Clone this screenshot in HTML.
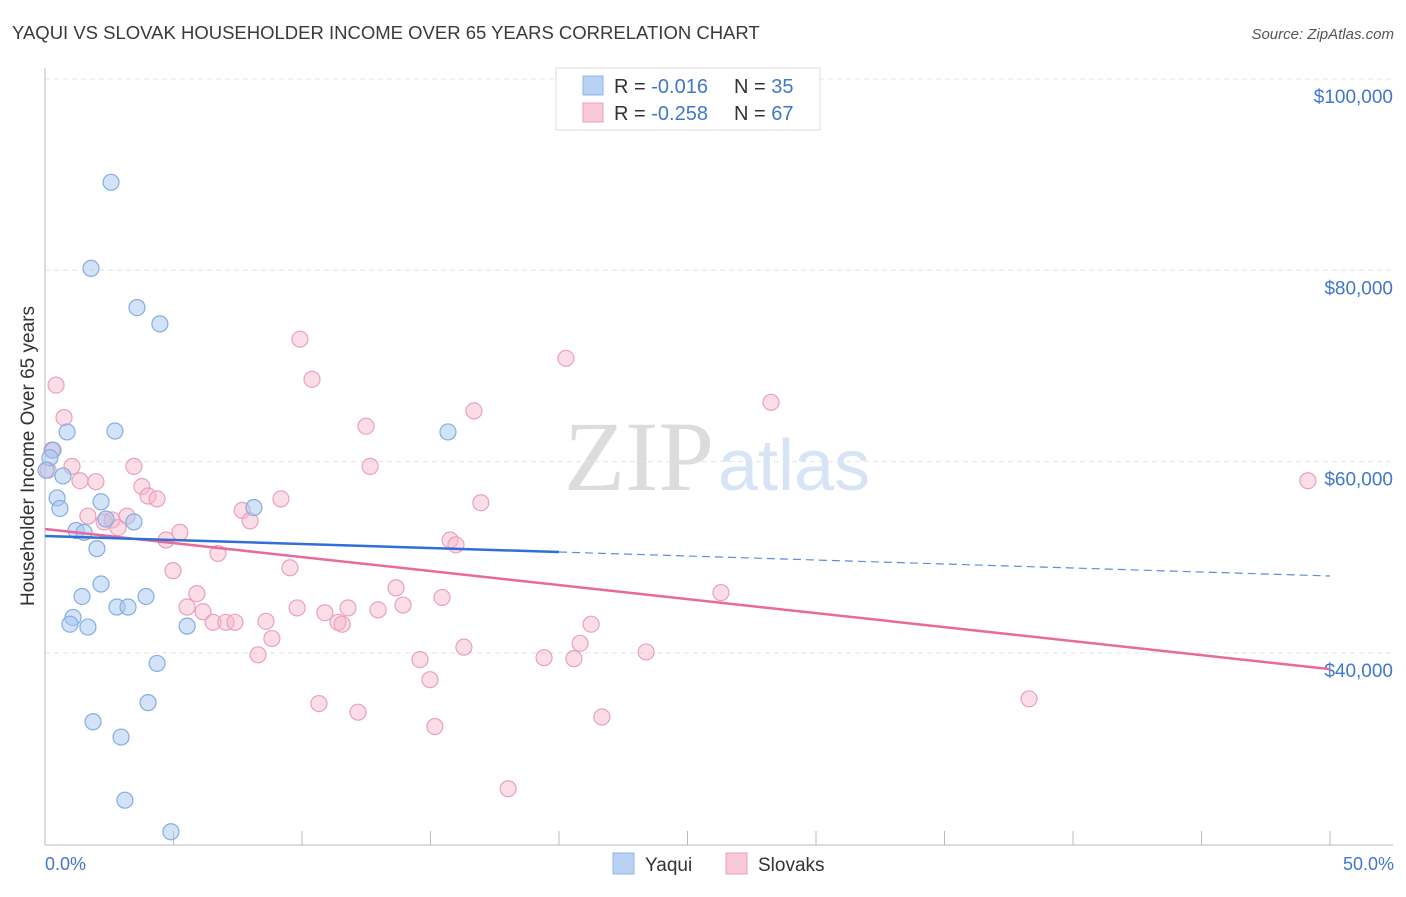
<!DOCTYPE html>
<html><head><meta charset="utf-8"><style>
body{margin:0;background:#fff;font-family:"Liberation Sans",sans-serif;}
svg text{font-family:"Liberation Sans",sans-serif;}
</style></head><body>
<svg id="chart" width="1406" height="892">
<text x="12" y="39" font-size="18.5" fill="#3a3a3a">YAQUI VS SLOVAK HOUSEHOLDER INCOME OVER 65 YEARS CORRELATION CHART</text>
<text x="1394" y="39" font-size="15" fill="#555" text-anchor="end" font-style="italic">Source: ZipAtlas.com</text>
<text x="714" y="490" font-size="100" fill="#dcdcdc" text-anchor="end" style="font-family:'Liberation Serif',serif">ZIP</text>
<text x="718" y="490" font-size="72" fill="#d6e4f5">atlas</text>
<g id="grid"></g>
<g id="axes"></g>
<g id="points"></g>
<g id="lines"></g>
<text transform="translate(34,456) rotate(-90)" font-size="19" fill="#333" text-anchor="middle">Householder Income Over 65 years</text>
<text x="45" y="870" font-size="18" fill="#3f77d0">0.0%</text>
<text x="1394" y="870" font-size="18" fill="#3f77d0" text-anchor="end">50.0%</text>
<g>
<rect x="556" y="68" width="264" height="62" fill="#fff" stroke="#ddd"/>
<rect x="583" y="76" width="20" height="19" fill="#b9d2f3" stroke="#8fb4e6"/>
<rect x="583" y="103" width="20" height="19" fill="#f8c8d7" stroke="#ec9fb8"/>
<text x="614" y="93" font-size="20" fill="#333">R = <tspan fill="#3f77d0">-0.016</tspan><tspan x="734">N = </tspan><tspan fill="#3f77d0">35</tspan></text>
<text x="614" y="120" font-size="20" fill="#333">R = <tspan fill="#3f77d0">-0.258</tspan><tspan x="734">N = </tspan><tspan fill="#3f77d0">67</tspan></text>
</g>
<g>
<rect x="613" y="853" width="21" height="21" fill="#b9d2f3" stroke="#8fb4e6"/>
<text x="645" y="871" font-size="19" fill="#333">Yaqui</text>
<rect x="726" y="853" width="21" height="21" fill="#f8c8d7" stroke="#ec9fb8"/>
<text x="758" y="871" font-size="19" fill="#333">Slovaks</text>
</g>
</svg>
<script>
const yTicks=[100000,80000,60000,40000];
const yTickLabels=["$100,000","$80,000","$60,000","$40,000"];
const yaquiX=[2.57,1.79,3.58,4.47,0.86,2.72,15.68,0.31,0.19,0.04,0.70,0.47,0.58,2.18,8.13,2.37,3.46,1.21,1.52,2.02,2.18,1.44,3.93,2.80,3.23,1.09,0.97,1.67,5.53,4.36,4.01,1.87,2.96,3.11,4.90];
const yaquiY=[89.2,80.2,76.1,74.4,63.1,63.2,63.1,61.2,60.4,59.1,58.5,56.2,55.1,55.8,55.2,54.0,53.7,52.8,52.6,50.9,47.2,45.9,45.9,44.8,44.8,43.7,43.0,42.7,42.8,38.9,34.8,32.8,31.2,24.6,21.3];
const slovakX=[0.43,0.74,0.27,0.12,1.05,3.46,1.36,1.98,3.77,4.01,4.36,1.67,2.30,2.61,2.84,3.19,5.25,4.71,6.73,4.98,7.67,7.98,9.18,9.92,10.39,12.49,12.65,16.69,16.96,20.27,28.25,49.14,9.53,5.91,5.53,6.15,6.54,7.04,7.39,8.60,9.81,10.89,11.40,11.56,11.79,12.96,13.66,13.93,15.76,15.99,15.45,8.83,8.29,10.66,12.18,14.59,14.98,15.17,16.30,18.02,19.42,20.58,20.82,21.25,21.67,23.39,26.30,38.29];
const slovakY=[68.0,64.6,61.2,59.1,59.5,59.5,58.0,57.9,57.4,56.4,56.1,54.3,53.7,53.9,53.1,54.3,52.6,51.8,50.4,48.6,54.9,53.8,56.1,72.8,68.6,63.7,59.5,65.3,55.7,70.8,66.2,58.0,48.9,46.2,44.8,44.3,43.2,43.2,43.2,43.3,44.7,44.2,43.2,43.0,44.7,44.5,46.8,45.0,51.8,51.3,45.8,41.5,39.8,34.7,33.8,39.3,37.2,32.3,40.6,25.8,39.5,39.4,41.0,43.0,33.3,40.1,46.3,35.2];
const yaquiTrend=[52.22,48.04];
const slovakTrend=[52.95,38.3];
const NS="http://www.w3.org/2000/svg";
function xs(p){return 45+p/50*1285;}
function ys(v){return 79+(100-v)*9.565;}
function mk(tag,attrs,parent){const e=document.createElementNS(NS,tag);for(const k in attrs)e.setAttribute(k,attrs[k]);document.getElementById(parent).appendChild(e);return e;}
yTicks.forEach((t,i)=>{
  const y=ys(t/1000);
  const g=mk('line',{x1:45,x2:1393,y1:y,y2:y,stroke:'#e4e4e4','stroke-dasharray':'5,4'},'grid');
  
  
  const tx=mk('text',{x:1393,y:y+24,'font-size':19,fill:'#3f77d0','text-anchor':'end'},'axes');
  tx.textContent=yTickLabels[i];
  
  
});
let ax=mk('line',{x1:45,x2:45,y1:68,y2:845,stroke:'#bbb'},'axes');


ax=mk('line',{x1:45,x2:1393,y1:845,y2:845,stroke:'#bbb'},'axes');


for(let i=1;i<=10;i++){
  const x=xs(i*5);
  const t=mk('line',{x1:x,x2:x,y1:831,y2:845,stroke:'#bbb'},'axes');
  
  
}
slovakX.forEach((x,i)=>{
  const c=mk('circle',{cx:xs(x),cy:ys(slovakY[i]),r:8,fill:'rgba(246,180,202,0.45)',stroke:'#eca0ba','stroke-width':1.2},'points');
  
  
});
yaquiX.forEach((x,i)=>{
  const c=mk('circle',{cx:xs(x),cy:ys(yaquiY[i]),r:8,fill:'rgba(165,198,240,0.5)',stroke:'#86ade3','stroke-width':1.2},'points');
  
  
});
function ty(tr,p){return tr[0]+(tr[1]-tr[0])*p/50;}
let l=mk('line',{x1:xs(0),y1:ys(ty(slovakTrend,0)),x2:xs(50),y2:ys(ty(slovakTrend,50)),stroke:'#e8699a','stroke-width':2.5},'lines');


l=mk('line',{x1:xs(0),y1:ys(ty(yaquiTrend,0)),x2:xs(20),y2:ys(ty(yaquiTrend,20)),stroke:'#2f6fd6','stroke-width':2.5},'lines');


l=mk('line',{x1:xs(20),y1:ys(ty(yaquiTrend,20)),x2:xs(50),y2:ys(ty(yaquiTrend,50)),stroke:'#5a8ede','stroke-width':1.2,'stroke-dasharray':'8,5'},'lines');


</script>
</body></html>
